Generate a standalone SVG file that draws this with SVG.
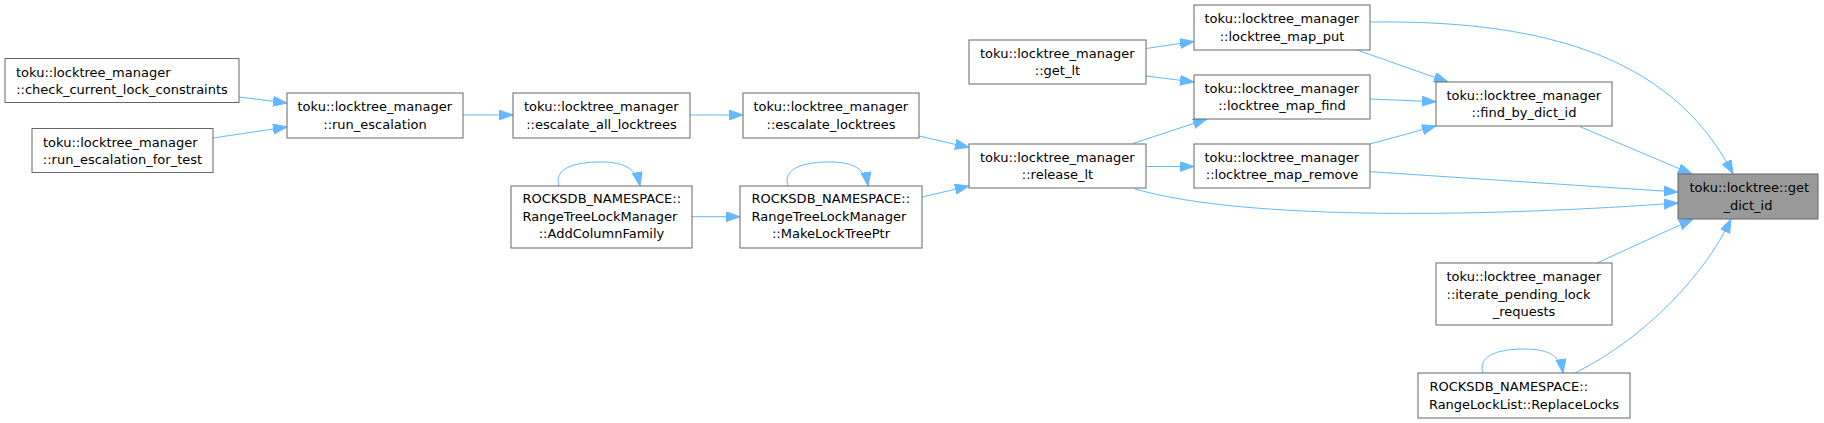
<svg xmlns="http://www.w3.org/2000/svg" width="1824" height="423" viewBox="0 0 1824 423">
<style>
.n rect{fill:#ffffff;stroke:#666666;stroke-width:1}
.root rect{fill:#999999;stroke:#666666;stroke-width:1}
text{font-family:"DejaVu Sans",sans-serif;font-size:13px;fill:#000000}
.m{text-anchor:middle}
.s{text-anchor:start}
.e path{fill:none;stroke:#63b8ff;stroke-width:1;marker-end:url(#ah)}
</style>
<defs>
<marker id="ah" markerUnits="userSpaceOnUse" markerWidth="15" markerHeight="11" refX="14" refY="5" orient="auto">
<path d="M0,0 L14,5 L0,10 z" fill="#63b8ff" stroke="#63b8ff" stroke-width="1"/>
</marker>
</defs>
<rect width="1824" height="423" fill="#ffffff"/>
<g id="edges" class="e">
<path d="M239,97 L287,103"/>
<path d="M213,138 L287,127"/>
<path d="M463,115 L513,115"/>
<path d="M690,115 L743,115"/>
<path d="M919,136 L969,147.5"/>
<path d="M922,197 L969,186"/>
<path d="M692,216.7 L740,216.7"/>
<path d="M1133,143.5 L1207,119"/>
<path d="M1146,166.5 L1194,166.5"/>
<path d="M1146,48.5 L1194,41.5"/>
<path d="M1146,76 L1194,82"/>
<path d="M1370,22 C1530,20 1670,50 1733,174"/>
<path d="M1357,50 L1448,82"/>
<path d="M1370,99 L1436,101.7"/>
<path d="M1370,144 L1436,126"/>
<path d="M1370,171.7 L1678,192"/>
<path d="M1135,189 C1250,222 1500,216 1678,203"/>
<path d="M1580,126.7 L1692,174"/>
<path d="M1597,263 L1693,219"/>
<path d="M1575,373 C1645,338 1705,275 1731,219"/>
<path d="M559,186 C553,167 578,162 600,162 C620,162 636,166 640,186"/>
<path d="M788,186 C782,167 807,162 829,162 C849,162 865,166 868,186"/>
<path d="M1483,373 C1477,354 1502,349 1524,349 C1544,349 1560,353 1563,373"/>
</g>
<g id="check_current_lock_constraints" class="n">
<rect x="5" y="58.5" width="234" height="44"/>
<text class="s" x="16" y="76.5">toku::locktree_manager</text>
<text class="m" x="122" y="93.8">::check_current_lock_constraints</text>
</g>
<g id="run_escalation_for_test" class="n">
<rect x="32" y="128.5" width="181" height="44"/>
<text class="s" x="43" y="146.5">toku::locktree_manager</text>
<text class="m" x="122.5" y="163.8">::run_escalation_for_test</text>
</g>
<g id="run_escalation" class="n">
<rect x="287" y="93" width="176" height="45"/>
<text class="s" x="297.5" y="111.3">toku::locktree_manager</text>
<text class="m" x="375" y="128.6">::run_escalation</text>
</g>
<g id="escalate_all_locktrees" class="n">
<rect x="513" y="93" width="177" height="45"/>
<text class="s" x="524" y="111.3">toku::locktree_manager</text>
<text class="m" x="601.5" y="128.6">::escalate_all_locktrees</text>
</g>
<g id="escalate_locktrees" class="n">
<rect x="743" y="93" width="176" height="45"/>
<text class="s" x="753.5" y="111.3">toku::locktree_manager</text>
<text class="m" x="831" y="128.6">::escalate_locktrees</text>
</g>
<g id="AddColumnFamily" class="n">
<rect x="511" y="186" width="181" height="62"/>
<text class="s" x="522.5" y="203.2">ROCKSDB_NAMESPACE::</text>
<text class="s" x="522.5" y="220.5">RangeTreeLockManager</text>
<text class="m" x="601.5" y="237.8">::AddColumnFamily</text>
</g>
<g id="MakeLockTreePtr" class="n">
<rect x="740" y="186" width="182" height="62"/>
<text class="s" x="751.5" y="203.2">ROCKSDB_NAMESPACE::</text>
<text class="s" x="751.5" y="220.5">RangeTreeLockManager</text>
<text class="m" x="831" y="237.8">::MakeLockTreePtr</text>
</g>
<g id="get_lt" class="n">
<rect x="969" y="40" width="177" height="44"/>
<text class="s" x="980" y="57.8">toku::locktree_manager</text>
<text class="m" x="1057.5" y="75.1">::get_lt</text>
</g>
<g id="release_lt" class="n">
<rect x="969" y="144" width="177" height="44"/>
<text class="s" x="980" y="161.8">toku::locktree_manager</text>
<text class="m" x="1057.5" y="179.1">::release_lt</text>
</g>
<g id="locktree_map_put" class="n">
<rect x="1194" y="5" width="176" height="45"/>
<text class="s" x="1204.5" y="23.3">toku::locktree_manager</text>
<text class="m" x="1282" y="40.6">::locktree_map_put</text>
</g>
<g id="locktree_map_find" class="n">
<rect x="1194" y="75" width="176" height="44"/>
<text class="s" x="1204.5" y="92.8">toku::locktree_manager</text>
<text class="m" x="1282" y="110.1">::locktree_map_find</text>
</g>
<g id="locktree_map_remove" class="n">
<rect x="1194" y="144" width="176" height="44"/>
<text class="s" x="1204.5" y="161.8">toku::locktree_manager</text>
<text class="m" x="1282" y="179.1">::locktree_map_remove</text>
</g>
<g id="find_by_dict_id" class="n">
<rect x="1436" y="82" width="176" height="44"/>
<text class="s" x="1446.5" y="99.8">toku::locktree_manager</text>
<text class="m" x="1524" y="117.1">::find_by_dict_id</text>
</g>
<g id="iterate_pending_lock_requests" class="n">
<rect x="1436" y="263" width="176" height="62"/>
<text class="s" x="1446.5" y="281.2">toku::locktree_manager</text>
<text class="s" x="1446.5" y="298.5">::iterate_pending_lock</text>
<text class="m" x="1524" y="315.8">_requests</text>
</g>
<g id="ReplaceLocks" class="n">
<rect x="1418" y="373" width="212" height="45"/>
<text class="s" x="1429.5" y="391.3">ROCKSDB_NAMESPACE::</text>
<text class="m" x="1524" y="408.6">RangeLockList::ReplaceLocks</text>
</g>
<g id="get_dict_id" class="root">
<rect x="1678" y="174" width="140" height="45"/>
<text class="s" x="1689.5" y="192.3">toku::locktree::get</text>
<text class="m" x="1748" y="209.6">_dict_id</text>
</g>
</svg>
